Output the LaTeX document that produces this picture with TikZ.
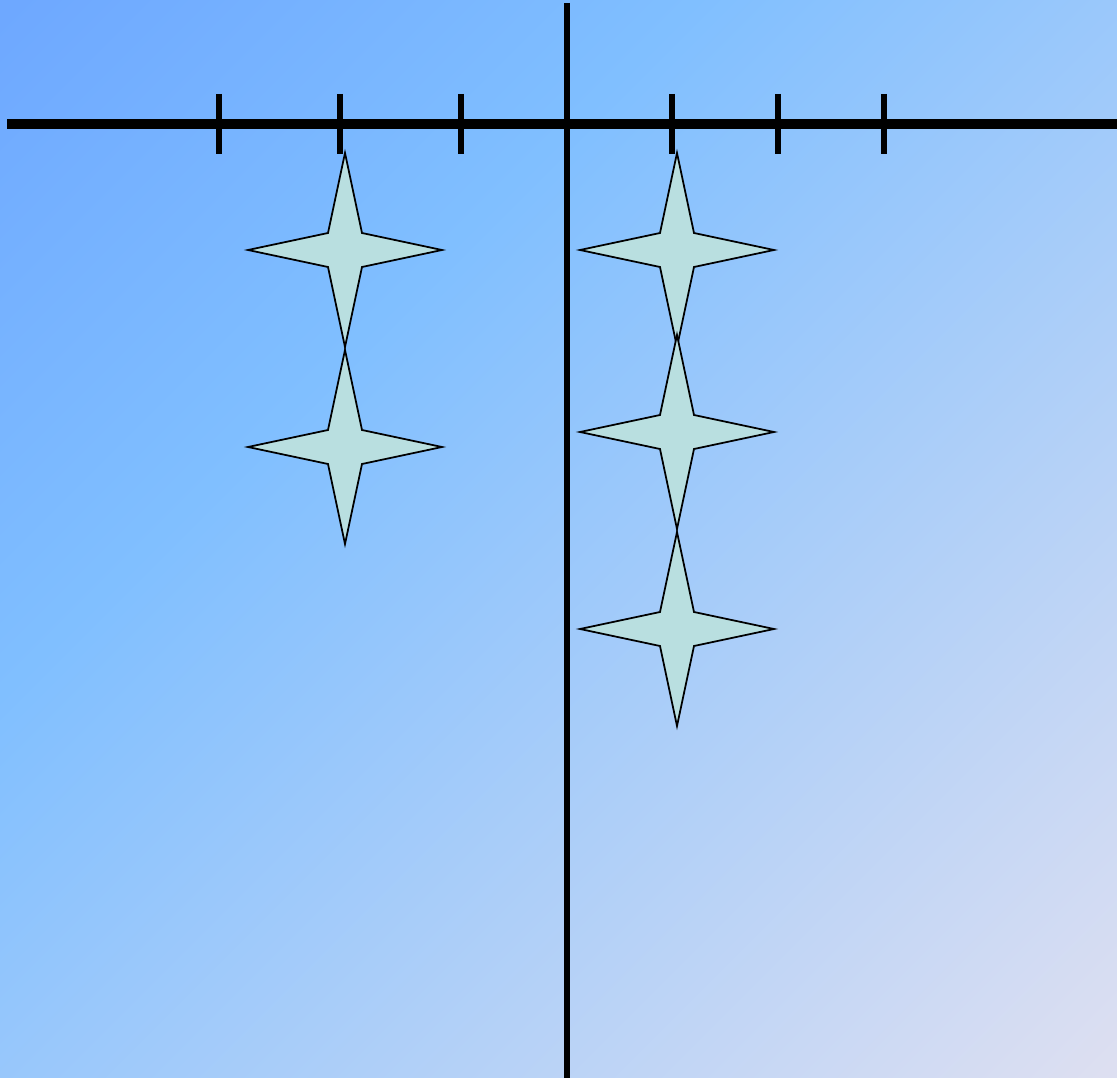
\documentclass[tikz,border=0pt]{standalone}
\usepackage{xcolor}
\usepackage{tikz}
\definecolor{bluscuro}{HTML}{6EA8FF}
\definecolor{blu}{HTML}{80BFFF}
\definecolor{lavanda}{HTML}{DDDFF1}
\definecolor{acqua}{HTML}{B9DFE0}
\pgfdeclarehorizontalshading{sfondo}{100bp}{color(0bp)=(bluscuro); color(15bp)=(bluscuro); color(37bp)=(blu); color(85bp)=(lavanda); color(100bp)=(lavanda)}
\tikzset{
  asse/.style={line width=6pt, black},
  tacca/.style={line width=3.1pt, black},
  stella/.style={draw=black, line width=1pt, fill=acqua, line join=miter},
}
% stella a quattro punte, centro (#1,#2)
\newcommand{\stella}[2]{\draw[stella] (#1,#2) ++(0,-97) -- ++(17,80) -- ++(80,17) -- ++(-80,17) -- ++(-17,80) -- ++(-17,-80) -- ++(-80,-17) -- ++(80,-17) -- cycle;}
\begin{document}
\begin{tikzpicture}[x=0.02cm, y=-0.02cm]
        % Sfondo sfumato
        \shade[shading=sfondo, shading angle=-45] (0,0) rectangle (1117,1078);
        \useasboundingbox (0,0) rectangle (1117,1078);
        % Assi
        \draw[asse] (7,124) -- (1117,124);
        \draw[tacca] (567,3) -- (567,1078);
        \foreach \x in {219,340,461,672,778,884} \draw[tacca] (\x,94) -- (\x,154);
        % Stelle
        \foreach \y in {250,447} {\stella{345}{\y}}
        \foreach \y in {250,432,629} {\stella{677}{\y}}
    \end{tikzpicture}
\end{document}
